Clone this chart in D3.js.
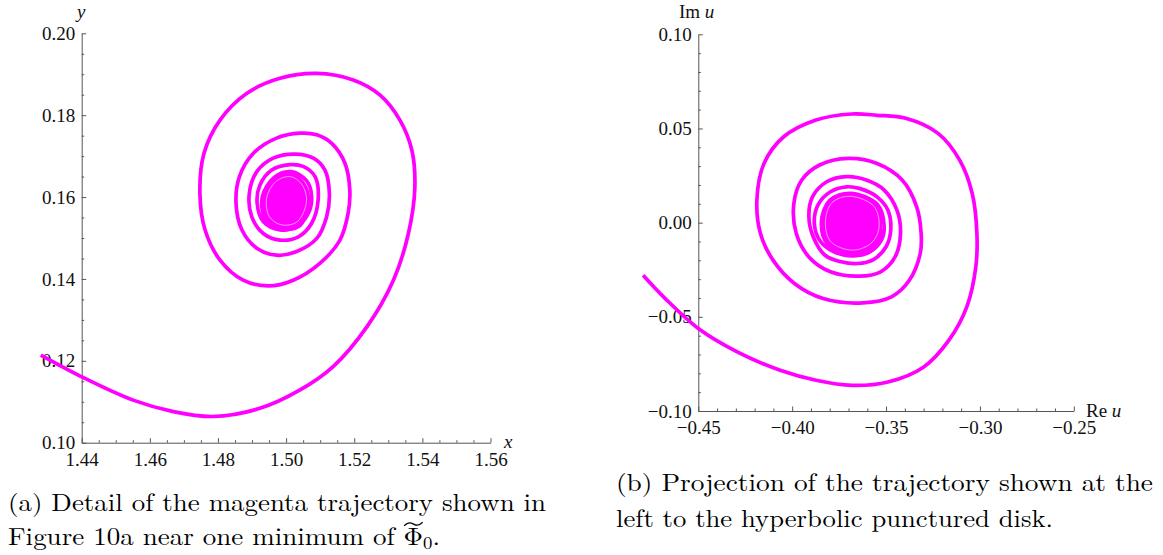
<!DOCTYPE html>
<html>
<head>
<meta charset="utf-8">
<script src="https://cdn.jsdelivr.net/npm/d3@7"></script>
<style>
  html, body { margin: 0; padding: 0; background: #fff; }
  svg { display: block; }
</style>
</head>
<body>
<svg id="chart" width="1163" height="555"></svg>
<script>
// ---------- DATA ----------
// Panel (a): trajectory in (x, y)
const leftTrajX = [1.4280,1.4400,1.4551,1.4669,1.4786,1.4923,1.5041,1.5138,1.5237,1.5315,1.5359,1.5378,1.5369,1.5334,1.5276,1.5197,1.5090,1.4982,1.4884,1.4806,1.4759,1.4747,1.4762,1.4806,1.4874,1.4948,1.5021,1.5099,1.5158,1.5182,1.5187,1.5173,1.5134,1.5090,1.5041,1.4972,1.4904,1.4863,1.4853,1.4870,1.4914,1.4972,1.5031,1.5090,1.5119,1.5127,1.5114,1.5080,1.5026,1.4962,1.4914,1.4892,1.4899,1.4933,1.4982,1.5036,1.5075,1.5094,1.5085,1.5050,1.5011,1.4958,1.4923,1.4915,1.4933,1.4982,1.5031,1.5065,1.5075,1.5060,1.5015,1.4965,1.4930,1.4940,1.4985,1.5040,1.5068];
const leftTrajY = [0.1214,0.1161,0.1104,0.1076,0.1064,0.1084,0.1129,0.1186,0.1283,0.1397,0.1511,0.1625,0.1715,0.1788,0.1849,0.1886,0.1902,0.1890,0.1853,0.1788,0.1707,0.1609,0.1520,0.1446,0.1397,0.1383,0.1397,0.1438,0.1495,0.1560,0.1617,0.1682,0.1731,0.1752,0.1756,0.1744,0.1707,0.1650,0.1585,0.1520,0.1475,0.1458,0.1467,0.1499,0.1552,0.1609,0.1666,0.1695,0.1705,0.1695,0.1662,0.1609,0.1552,0.1511,0.1495,0.1503,0.1536,0.1593,0.1650,0.1675,0.1679,0.1666,0.1629,0.1585,0.1540,0.1520,0.1528,0.1560,0.1601,0.1640,0.1662,0.1648,0.1600,0.1545,0.1522,0.1530,0.1580];
// dense filled core and the thin light gap inside it
const leftCoreX = [1.5066,1.5050,1.5013,1.4968,1.4937,1.4946,1.4986,1.5037];
const leftCoreY = [0.1590,0.1636,0.1656,0.1643,0.1598,0.1548,0.1526,0.1535];
const leftGapX  = [1.5060,1.5045,1.5012,1.4970,1.4943,1.4951,1.4987,1.5033];
const leftGapY  = [0.1591,0.1632,0.1650,0.1638,0.1598,0.1552,0.1532,0.1540];

// Panel (b): trajectory in (Re u, Im u)
const rightTrajX = [-0.4794,-0.4676,-0.4500,-0.4293,-0.4064,-0.3873,-0.3682,-0.3490,-0.3299,-0.3165,-0.3070,-0.3022,-0.3016,-0.3041,-0.3108,-0.3223,-0.3395,-0.3548,-0.3682,-0.3873,-0.4045,-0.4150,-0.4188,-0.4169,-0.4102,-0.3988,-0.3835,-0.3624,-0.3471,-0.3376,-0.3318,-0.3313,-0.3337,-0.3414,-0.3548,-0.3701,-0.3854,-0.3949,-0.3991,-0.3978,-0.3911,-0.3796,-0.3643,-0.3529,-0.3452,-0.3423,-0.3442,-0.3510,-0.3605,-0.3710,-0.3816,-0.3892,-0.3911,-0.3888,-0.3825,-0.3739,-0.3653,-0.3567,-0.3500,-0.3475,-0.3490,-0.3548,-0.3643,-0.3710,-0.3796,-0.3863,-0.3882,-0.3854,-0.3777,-0.3672,-0.3586,-0.3525,-0.3510,-0.3545,-0.3690,-0.3800,-0.3844,-0.3812,-0.3680,-0.3565,-0.3522];
const rightTrajY = [-0.0279,-0.0403,-0.0562,-0.0686,-0.0784,-0.0837,-0.0864,-0.0846,-0.0766,-0.0624,-0.0447,-0.0235,-0.0058,0.0155,0.0332,0.0474,0.0554,0.0570,0.0577,0.0545,0.0456,0.0314,0.0119,-0.0058,-0.0199,-0.0323,-0.0403,-0.0426,-0.0394,-0.0306,-0.0164,-0.0058,0.0084,0.0226,0.0314,0.0341,0.0306,0.0226,0.0102,-0.0058,-0.0182,-0.0261,-0.0284,-0.0261,-0.0182,-0.0058,0.0066,0.0173,0.0226,0.0244,0.0217,0.0137,0.0031,-0.0075,-0.0173,-0.0208,-0.0217,-0.0196,-0.0128,-0.0040,0.0066,0.0137,0.0182,0.0190,0.0164,0.0093,-0.0004,-0.0093,-0.0155,-0.0176,-0.0155,-0.0093,-0.0022,0.0095,0.0156,0.0118,0.0005,-0.0112,-0.0163,-0.0120,-0.0035];
const rightCoreX = [-0.3528,-0.3556,-0.3690,-0.3793,-0.3832,-0.3802,-0.3680,-0.3572];
const rightCoreY = [-0.0030,0.0090,0.0148,0.0112,0.0005,-0.0105,-0.0153,-0.0113];
const rightGapX  = [-0.3538,-0.3563,-0.3690,-0.3787,-0.3823,-0.3795,-0.3680,-0.3578];
const rightGapY  = [-0.0030,0.0085,0.0140,0.0107,0.0005,-0.0100,-0.0146,-0.0108];

// Axis ticks
const leftXTicks  = [1.44,1.46,1.48,1.50,1.52,1.54,1.56];
const leftYTicks  = [0.10,0.12,0.14,0.16,0.18,0.20];
const rightXTicks = [-0.45,-0.40,-0.35,-0.30,-0.25];
const rightYTicks = [-0.10,-0.05,0.00,0.05,0.10];

// Captions
const captionA = ["(a) Detail of the magenta trajectory shown in", "Figure 10a near one minimum of "];
const captionB = ["(b) Projection of the trajectory shown at the", "left to the hyperbolic punctured disk."];

// ---------- DRAWING ----------
const svg = d3.select("#chart");
const MAG = "#ff00ff";
const AXC = "#555555";
const TICKFONT = "'Liberation Serif', serif";
const CAPFONT = "'Latin Modern Roman', 'Liberation Serif', serif";

function zip(xs, ys) { return xs.map((x, i) => [x, ys[i]]); }

function panel(opts) {
  const { xDom, xRange, yDom, yRange, xTicks, yTicks, xMinorStep, yMinorStep,
          trajX, trajY, coreX, coreY, gapX, gapY } = opts;
  const x = d3.scaleLinear().domain(xDom).range(xRange);
  const y = d3.scaleLinear().domain(yDom).range(yRange);
  const g = svg.append("g");
  const fmt = d3.format(".2f");

  const xMinor = d3.range(xDom[0], xDom[1] + 1e-9, xMinorStep).filter(v => !xTicks.some(t => Math.abs(t - v) < 1e-9));
  const yMinor = d3.range(yDom[0], yDom[1] + 1e-9, yMinorStep).filter(v => !yTicks.some(t => Math.abs(t - v) < 1e-9));

  // minor ticks
  g.append("g").attr("transform", `translate(0,${y(yDom[0])})`)
    .call(d3.axisBottom(x).tickValues(xMinor).tickSize(-2.5).tickSizeOuter(0).tickFormat(""))
    .call(s => s.select(".domain").remove());
  g.append("g").attr("transform", `translate(${x(xDom[0])},0)`)
    .call(d3.axisLeft(y).tickValues(yMinor).tickSize(-2.5).tickSizeOuter(0).tickFormat(""))
    .call(s => s.select(".domain").remove());

  // major ticks + labels
  const ax = g.append("g").attr("transform", `translate(0,${y(yDom[0])})`)
    .call(d3.axisBottom(x).tickValues(xTicks).tickSize(-4.5).tickSizeOuter(0).tickPadding(9.5).tickFormat(fmt));
  const ay = g.append("g").attr("transform", `translate(${x(xDom[0])},0)`)
    .call(d3.axisLeft(y).tickValues(yTicks).tickSize(-4.5).tickSizeOuter(0).tickPadding(6.5).tickFormat(fmt));
  [ax, ay].forEach(a => {
    a.attr("font-family", null).attr("font-size", null);
    a.selectAll("text").style("font-family", TICKFONT).style("font-size", "19px").attr("fill", "#111");
  });
  g.selectAll(".domain, .tick line").attr("stroke", AXC).attr("stroke-width", 1);

  // trajectory
  const line = d3.line().x(d => x(d[0])).y(d => y(d[1])).curve(d3.curveCatmullRom.alpha(0.5));
  const closed = d3.line().x(d => x(d[0])).y(d => y(d[1])).curve(d3.curveCatmullRomClosed.alpha(0.5));
  g.append("path").attr("d", closed(zip(coreX, coreY)))
    .attr("fill", MAG).attr("stroke", MAG).attr("stroke-width", 3);
  g.append("path").attr("d", line(zip(trajX, trajY)))
    .attr("fill", "none").attr("stroke", MAG).attr("stroke-width", 3.7)
    .attr("stroke-linejoin", "round").attr("stroke-linecap", "butt");
  g.append("path").attr("d", closed(zip(gapX, gapY)))
    .attr("fill", "none").attr("stroke", "#ffffff").attr("stroke-opacity", 0.75).attr("stroke-width", 0.8);
  return { x, y, g };
}

function label(x, y, parts) {
  const t = svg.append("text").attr("x", x).attr("y", y)
    .style("font-family", TICKFONT).style("font-size", "19px").attr("fill", "#111");
  parts.forEach(([txt, it]) => t.append("tspan").style("font-style", it ? "italic" : "normal").text(txt));
  return t;
}

// Panel (a)
panel({
  xDom: [1.44, 1.56], xRange: [81.7, 490.5],
  yDom: [0.10, 0.20], yRange: [442.7, 33.3],
  xTicks: leftXTicks, yTicks: leftYTicks, xMinorStep: 0.005, yMinorStep: 0.005,
  trajX: leftTrajX, trajY: leftTrajY, coreX: leftCoreX, coreY: leftCoreY, gapX: leftGapX, gapY: leftGapY
});
label(77, 18, [["y", true]]);
label(504, 448, [["x", true]]);

// Panel (b)
panel({
  xDom: [-0.45, -0.25], xRange: [698.3, 1073.8],
  yDom: [-0.10, 0.10], yRange: [411, 34.3],
  xTicks: rightXTicks, yTicks: rightYTicks, xMinorStep: 0.01, yMinorStep: 0.01,
  trajX: rightTrajX, trajY: rightTrajY, coreX: rightCoreX, coreY: rightCoreY, gapX: rightGapX, gapY: rightGapY
});
label(679, 18, [["Im ", false], ["u", true]]);
label(1086, 417, [["Re ", false], ["u", true]]);

// Captions
function capLine(x, y, txt, width) {
  const t = svg.append("text").attr("x", x).attr("y", y).style("font-family", CAPFONT)
    .style("font-size", "24.5px").attr("fill", "#000").text(txt);
  if (width) t.attr("textLength", width).attr("lengthAdjust", "spacingAndGlyphs");
  return t;
}
capLine(8, 511, captionA[0], 538);
const a2 = svg.append("text").attr("x", 8).attr("y", 545).style("font-family", CAPFONT)
  .style("font-size", "24.5px").attr("fill", "#000");
a2.append("tspan").text(captionA[1]);
a2.append("tspan").text("\u03A6");
a2.append("tspan").style("font-size", "17px").attr("dy", 4).text("0");
a2.append("tspan").attr("dy", -4).text(".");
a2.attr("textLength", 432).attr("lengthAdjust", "spacingAndGlyphs");
// wide tilde accent above Phi (drawn as a stroke)
const phiIdx = captionA[1].length;
const ext = a2.node().getExtentOfChar(phiIdx);
{
  const cx = ext.x + ext.width / 2, w = ext.width * 0.95, ty = 524;
  const p = d3.path();
  p.moveTo(cx - w / 2, ty + 1.8);
  p.bezierCurveTo(cx - w / 4, ty - 2.6, cx - w / 8, ty - 1.2, cx, ty);
  p.bezierCurveTo(cx + w / 8, ty + 1.2, cx + w / 4, ty + 2.6, cx + w / 2, ty - 1.8);
  svg.append("path").attr("d", p.toString()).attr("fill", "none").attr("stroke", "#000").attr("stroke-width", 1.2);
}

capLine(616, 491, captionB[0], 537);
capLine(616, 527, captionB[1], 437);
</script>
</body>
</html>
